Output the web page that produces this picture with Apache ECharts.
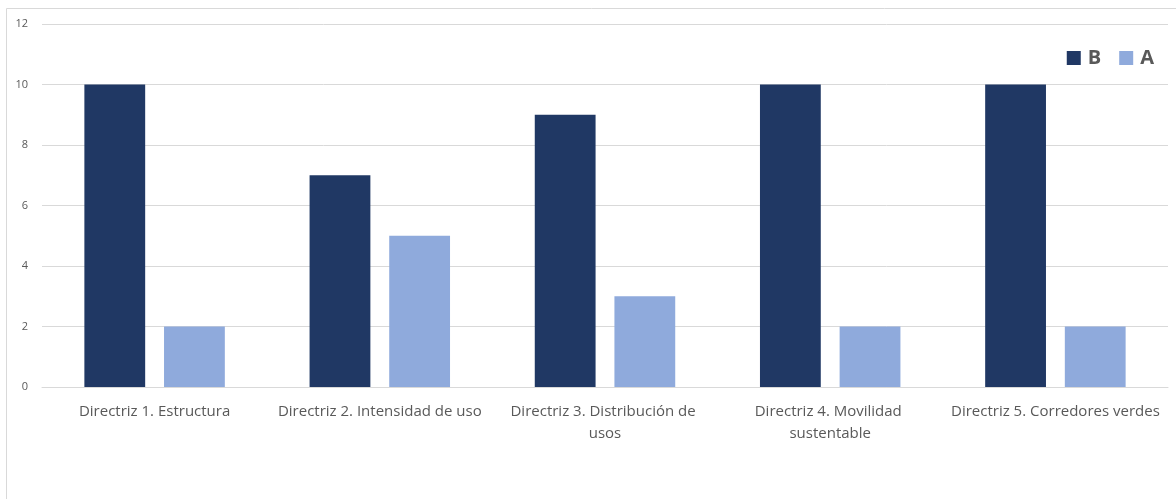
<!DOCTYPE html>
<html><head><meta charset="utf-8">
<script src="https://cdn.jsdelivr.net/npm/echarts@6/dist/echarts.min.js"></script>
<style>html,body{margin:0;padding:0;background:#fff}#c{width:1176px;height:499px}</style>
</head><body><div id="c"></div>
<script>
const categories = ["Directriz 1. Estructura","Directriz 2. Intensidad de uso","Directriz 3. Distribución de usos","Directriz 4. Movilidad sustentable","Directriz 5. Corredores verdes"];
const seriesB = [10, 7, 9, 10, 10];
const seriesA = [2, 5, 3, 2, 2];
const yTicks = {min: 0, max: 12, interval: 2};

const chart = echarts.init(document.getElementById('c'));
chart.setOption({
  animation: false,
  graphic: [{type:'rect', shape:{x:6.5,y:8.5,width:1200,height:600}, style:{fill:'none',stroke:'#d9d9d9',lineWidth:1}, silent:true}],
  legend: {
    right: 17, top: 43, itemWidth: 14, itemHeight: 14, itemGap: 18,
    icon: 'rect',
    textStyle: {fontFamily: 'Open Sans', fontWeight: 'bold', fontSize: 20, color: '#595959', padding:[0,0,0,2]},
    data: ['B','A']
  },
  grid: {left: 42, right: 8, top: 24, bottom: 112},
  xAxis: {
    type: 'category', data: categories,
    axisTick: {show: false},
    axisLine: {lineStyle: {color: '#d9d9d9'}},
    axisLabel: {interval: 0, width: 215, overflow: 'break', fontFamily: 'Open Sans', fontSize: 15, color: '#595959', lineHeight: 22, margin: 14}
  },
  yAxis: {
    type: 'value', min: yTicks.min, max: yTicks.max, interval: yTicks.interval,
    axisLine: {show: false}, axisTick: {show: false},
    splitLine: {lineStyle: {color: '#d9d9d9'}},
    axisLabel: {fontFamily: 'Open Sans', fontSize: 11, color: '#595959', margin: 14}
  },
  series: [
    {name: 'B', type: 'bar', data: seriesB, barWidth: '27%', barGap: '31%', itemStyle: {color: '#203864'}},
    {name: 'A', type: 'bar', data: seriesA, barWidth: '27%', itemStyle: {color: '#8faadc'}}
  ]
});
</script></body></html>
